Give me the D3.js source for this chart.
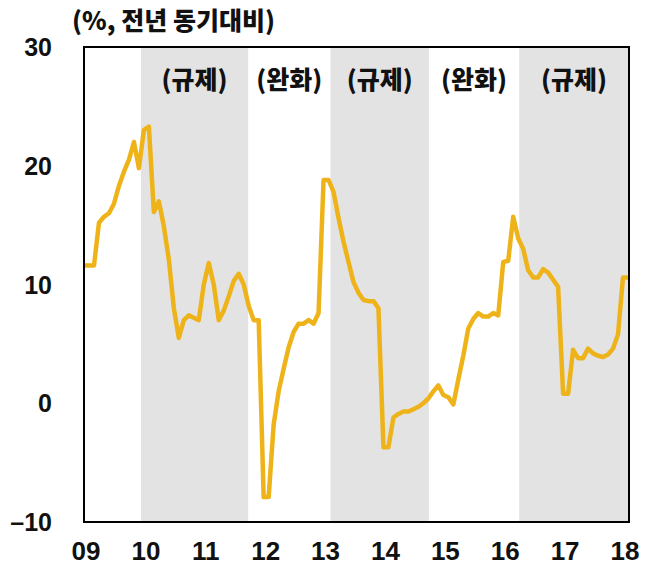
<!DOCTYPE html>
<html>
<head>
<meta charset="utf-8">
<script src="https://cdn.jsdelivr.net/npm/d3@7"></script>
<style>
  body { margin: 0; background: #fff; }
  svg { display: block; }
</style>
</head>
<body>
<div id="chart"></div>
<script>
// Monthly YoY change (%), Jan 2009 .. Feb 2018
const values = [
  11.6, 11.6, 11.6, 15.2, 15.7, 16.0, 16.8, 18.3, 19.5, 20.5, 22.0, 19.8,
  23.0, 23.3, 16.1, 17.0, 14.9, 12.1, 8.0, 5.5, 7.0, 7.4, 7.2, 7.0,
  10.0, 11.8, 10.0, 7.0, 7.8, 9.0, 10.3, 10.9, 10.0, 8.2, 7.0, 7.0,
  -7.9, -7.9, -1.8, 1.0, 2.9, 4.7, 6.0, 6.7, 6.7, 7.0, 6.7, 7.6,
  18.8, 18.8, 17.8, 15.6, 13.6, 11.9, 10.2, 9.3, 8.7, 8.6, 8.6, 8.0,
  -3.7, -3.7, -1.2, -0.9, -0.7, -0.7, -0.5, -0.3, 0.0, 0.4, 1.0, 1.5,
  0.7, 0.5, -0.1, 2.0, 4.0, 6.3, 7.1, 7.6, 7.3, 7.3, 7.6, 7.4,
  11.9, 12.0, 15.7, 13.9, 13.0, 11.2, 10.6, 10.6, 11.3, 11.0, 10.4, 9.8,
  0.8, 0.8, 4.5, 3.8, 3.8, 4.6, 4.2, 4.0, 3.9, 4.1, 4.6, 5.8,
  10.6, 10.6
];

// Policy periods, in month index from Jan 2009
const periodStart = [11.4, 32.9, 49.4, 69.1, 87.2];
const periodEnd   = [32.9, 49.4, 69.1, 87.2, 109.2];
const periodLabel = ['(규제)', '(완화)', '(규제)', '(완화)', '(규제)'];
const periodShaded = [true, false, true, false, true];

const yearLabels = ['09', '10', '11', '12', '13', '14', '15', '16', '17', '18'];
const yTicks = [30, 20, 10, 0, -10];

const W = 656, H = 566;
const plotL = 84, plotR = 629, plotT = 47, plotB = 522;

const x = d3.scaleLinear().domain([0, 109]).range([plotL, 628]);
const y = d3.scaleLinear().domain([-10, 30]).range([plotB, plotT]);

const svg = d3.select('#chart').append('svg')
  .attr('width', W)
  .attr('height', H);

const numFont = '"Liberation Sans", Arial, sans-serif';
const korFont = '"Noto Sans CJK KR", "Noto Sans", sans-serif';

// Shaded regulation periods
periodStart.forEach((s, i) => {
  if (!periodShaded[i]) return;
  svg.append('rect')
    .attr('x', x(s))
    .attr('y', plotT)
    .attr('width', Math.min(x(periodEnd[i]), plotR) - x(s))
    .attr('height', plotB - plotT)
    .attr('fill', '#e3e3e3');
});

// Period labels
periodStart.forEach((s, i) => {
  const e = Math.min(x(periodEnd[i]), plotR);
  svg.append('text')
    .attr('x', (x(s) + e) / 2)
    .attr('y', 89)
    .attr('text-anchor', 'middle')
    .attr('font-family', korFont)
    .attr('font-weight', '900')
    .attr('font-size', '25px')
    .attr('fill', '#111')
    .text(periodLabel[i]);
});

// Line
const line = d3.line()
  .x((d, i) => x(i))
  .y(d => y(d));

svg.append('path')
  .datum(values)
  .attr('d', line)
  .attr('fill', 'none')
  .attr('stroke', '#efb31a')
  .attr('stroke-width', 4.5)
  .attr('stroke-linejoin', 'round');

// Frame
svg.append('rect')
  .attr('x', plotL)
  .attr('y', plotT)
  .attr('width', plotR - plotL)
  .attr('height', plotB - plotT)
  .attr('fill', 'none')
  .attr('stroke', '#000')
  .attr('stroke-width', 2);

// Y tick labels
svg.selectAll('text.ytick')
  .data(yTicks)
  .join('text')
  .attr('class', 'ytick')
  .attr('x', 52)
  .attr('y', d => y(d))
  .attr('dy', '0.36em')
  .attr('text-anchor', 'end')
  .attr('font-family', numFont)
  .attr('font-weight', '700')
  .attr('font-size', '25px')
  .attr('fill', '#111')
  .text(d => d < 0 ? '\u2013' + Math.abs(d) : d);

// X tick labels (January of each year)
svg.selectAll('text.xtick')
  .data(yearLabels)
  .join('text')
  .attr('class', 'xtick')
  .attr('x', (d, i) => x(i * 12) + 2)
  .attr('y', 560)
  .attr('text-anchor', 'middle')
  .attr('font-family', numFont)
  .attr('font-weight', '700')
  .attr('font-size', '26px')
  .attr('fill', '#111')
  .text(d => d);

// Unit label
svg.append('text')
  .attr('x', 72)
  .attr('y', 30)
  .attr('font-family', korFont)
  .attr('font-weight', '900')
  .attr('font-size', '25px')
  .attr('fill', '#111')
  .text('(%, 전년 동기대비)');
</script>
</body>
</html>
